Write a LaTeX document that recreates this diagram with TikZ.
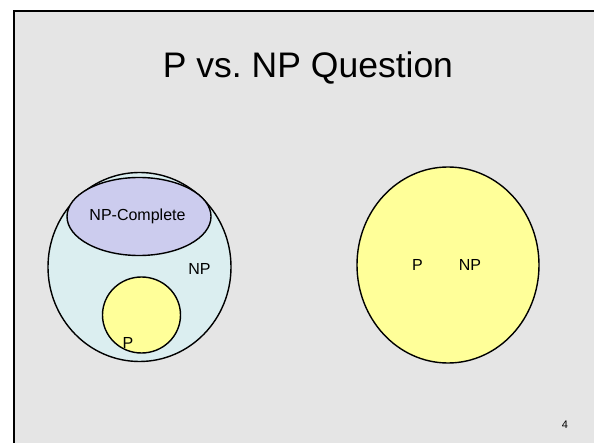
\documentclass[tikz,border=0pt]{standalone}
\usepackage{fontspec}
\setmainfont{Liberation Sans}
\usetikzlibrary{shapes.geometric}
\definecolor{slidebg}{RGB}{229,229,229}
\definecolor{npfill}{RGB}{219,238,240}
\definecolor{npcfill}{RGB}{204,204,238}
\definecolor{pfill}{RGB}{255,255,153}
\tikzset{
  setshape/.style={draw=black, line width=1.4pt, ellipse, inner sep=0pt},
  lbl/.style={font=\fontsize{16}{18}\selectfont, inner sep=0pt, anchor=base}
}
\frenchspacing
\begin{document}
\begin{tikzpicture}[x=1pt,y=-1pt]
\useasboundingbox (0,0) rectangle (594,443);
\fill[white] (0,0) rectangle (594,443);
\draw[fill=slidebg, line width=2.4pt] (14,11.3) rectangle (620,470);
\node[font=\fontsize{35.5}{40}\selectfont, anchor=base, inner sep=0pt] (title) at (308,77.3) {P vs.\ NP Question};
% left diagram
\node[setshape, fill=npfill, minimum width=183pt, minimum height=189pt] (np) at (139.5,267) {};
\node[setshape, fill=npcfill, minimum width=144pt, minimum height=78pt] (npc) at (139,216.5) {};
\node[setshape, fill=pfill, minimum width=78pt, minimum height=76pt] (p) at (141.5,315) {};
\node[lbl] (npcl) at (137.5,221) {NP-Complete};
\node[lbl] (npl) at (199.5,274.3) {NP};
\node[lbl] (pl) at (128,348.3) {P};
% right diagram
\node[setshape, fill=pfill, minimum width=182pt, minimum height=196pt] (pnp) at (448,265) {};
\node[lbl] (rp) at (417.5,271) {P};
\node[lbl] (rnp) at (470,271) {NP};
\node[font=\fontsize{11}{12}\selectfont, anchor=base, inner sep=0pt] (num) at (565,428.3) {4};
\end{tikzpicture}
\end{document}
